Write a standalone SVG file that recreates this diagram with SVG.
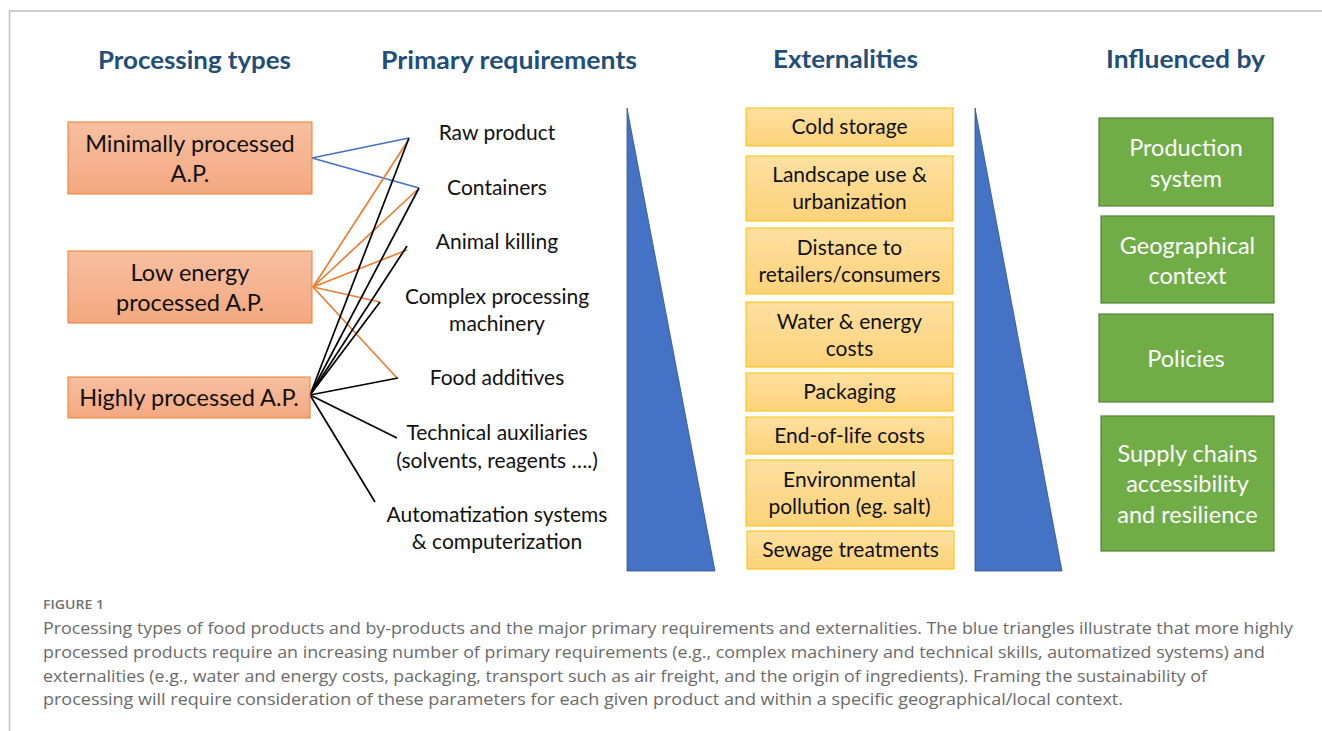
<svg xmlns="http://www.w3.org/2000/svg" width="1322" height="731" viewBox="0 0 1322 731">
<defs>
<linearGradient id="gOr" x1="0" y1="0" x2="0" y2="1"><stop offset="0" stop-color="#f7bfa0"/><stop offset="1" stop-color="#f4a880"/></linearGradient>
<linearGradient id="gYe" x1="0" y1="0" x2="0" y2="1"><stop offset="0" stop-color="#fde0a0"/><stop offset="1" stop-color="#fdd27a"/></linearGradient>
<style>
.hd{font-family:Lato,"Open Sans",sans-serif;font-weight:bold;font-size:25px;fill:#1f4e79;text-anchor:middle}
.pt{font-family:Lato,"Open Sans",sans-serif;font-size:23.5px;fill:#111;text-anchor:middle}
.rq{font-family:Lato,"Open Sans",sans-serif;font-size:21px;fill:#111;text-anchor:middle}
.ex{font-family:Lato,"Open Sans",sans-serif;font-size:21px;fill:#111;text-anchor:middle}
.gt{font-family:Lato,"Open Sans",sans-serif;font-size:23.5px;fill:#ffffff;text-anchor:middle}
.ob{fill:url(#gOr);stroke:#ed7d31;stroke-width:1}
.yb{fill:url(#gYe);stroke:#ffc000;stroke-width:1}
.gb{fill:#70ad47;stroke:#548235;stroke-width:1.2}
.tri{fill:#4472c4;stroke:#2f528f;stroke-width:0.8}
.bl{stroke:#4472c4;stroke-width:1.7;fill:none}
.or{stroke:#ed7d31;stroke-width:1.7;fill:none}
.bk{stroke:#000;stroke-width:1.7;fill:none}
.cap{font-family:"Open Sans",Lato,sans-serif;font-size:16.5px;fill:#6a6a6a}
.fig{font-family:"Open Sans",Lato,sans-serif;font-size:12.5px;font-weight:600;fill:#707070}
</style>
</defs>
<rect x="0" y="0" width="1322" height="731" fill="#ffffff"/>
<g id="frame" stroke="#bdbdbd" stroke-width="1.5" fill="none">
<line x1="9" y1="11" x2="1322" y2="11"/>
<line x1="9.5" y1="11" x2="9.5" y2="731"/>
</g>
<g id="headers">
<text class="hd" x="194.5" y="69" textLength="193" lengthAdjust="spacingAndGlyphs">Processing types</text>
<text class="hd" x="509" y="69" textLength="256" lengthAdjust="spacingAndGlyphs">Primary requirements</text>
<text class="hd" x="845.5" y="68" textLength="145" lengthAdjust="spacingAndGlyphs">Externalities</text>
<text class="hd" x="1185.5" y="68" textLength="159" lengthAdjust="spacingAndGlyphs">Influenced by</text>
</g>
<g id="connectors">
<line class="bl" x1="312" y1="158" x2="409" y2="138"/>
<line class="bl" x1="312" y1="158" x2="419" y2="188"/>
<line class="or" x1="313" y1="287" x2="409" y2="139"/>
<line class="or" x1="313" y1="287" x2="417" y2="190"/>
<line class="or" x1="313" y1="287" x2="407" y2="250"/>
<line class="or" x1="313" y1="287" x2="380" y2="302"/>
<line class="or" x1="313" y1="287" x2="397" y2="378"/>
<line class="bk" x1="310" y1="395" x2="409" y2="138"/>
<line class="bk" x1="310" y1="395" x2="419" y2="188"/>
<line class="bk" x1="310" y1="395" x2="407" y2="246"/>
<line class="bk" x1="310" y1="395" x2="380" y2="302" stroke-width="1"/>
<line class="bk" x1="310" y1="395" x2="398" y2="378"/>
<line class="bk" x1="310" y1="395" x2="397" y2="438"/>
<line class="bk" x1="310" y1="395" x2="375" y2="502"/>
</g>
<g id="node-minimally">
<rect class="ob" x="68" y="122" width="244" height="72"/>
<text class="pt" x="190" y="152">Minimally processed</text>
<text class="pt" x="190" y="182">A.P.</text>
</g>
<g id="node-lowenergy">
<rect class="ob" x="68" y="251" width="244" height="72"/>
<text class="pt" x="190" y="281">Low energy</text>
<text class="pt" x="190" y="311">processed A.P.</text>
</g>
<g id="node-highly">
<rect class="ob" x="68" y="377" width="242" height="41"/>
<text class="pt" x="189" y="406">Highly processed A.P.</text>
</g>
<g id="req-raw"><text class="rq" x="497" y="140">Raw product</text></g>
<g id="req-containers"><text class="rq" x="497" y="195">Containers</text></g>
<g id="req-animal"><text class="rq" x="497" y="249">Animal killing</text></g>
<g id="req-complex"><text class="rq" x="497" y="304">Complex processing</text><text class="rq" x="497" y="331">machinery</text></g>
<g id="req-additives"><text class="rq" x="497" y="385">Food additives</text></g>
<g id="req-technical"><text class="rq" x="497" y="440">Technical auxiliaries</text><text class="rq" x="497" y="468">(solvents, reagents ….)</text></g>
<g id="req-automat"><text class="rq" x="497" y="522">Automatization systems</text><text class="rq" x="497" y="549">&amp; computerization</text></g>
<g id="triangle-1"><polygon class="tri" points="627,108 715,571 627,571"/></g>
<g id="triangle-2"><polygon class="tri" points="975,108 1062,571 975,571"/></g>
<g id="ext-cold"><rect class="yb" x="746" y="108" width="207" height="38"/><text class="ex" x="849.5" y="134">Cold storage</text></g>
<g id="ext-landscape"><rect class="yb" x="746" y="156" width="207" height="65"/><text class="ex" x="849.5" y="182">Landscape use &amp;</text><text class="ex" x="849.5" y="209">urbanization</text></g>
<g id="ext-distance"><rect class="yb" x="746" y="228" width="207" height="66"/><text class="ex" x="849.5" y="255">Distance to</text><text class="ex" x="849.5" y="282">retailers/consumers</text></g>
<g id="ext-water"><rect class="yb" x="746" y="302" width="207" height="65"/><text class="ex" x="849.5" y="329">Water &amp; energy</text><text class="ex" x="849.5" y="356">costs</text></g>
<g id="ext-packaging"><rect class="yb" x="746" y="373" width="207" height="38"/><text class="ex" x="849.5" y="399">Packaging</text></g>
<g id="ext-endoflife"><rect class="yb" x="746" y="417" width="207" height="37"/><text class="ex" x="849.5" y="443">End-of-life costs</text></g>
<g id="ext-environmental"><rect class="yb" x="746" y="460" width="207" height="66"/><text class="ex" x="849.5" y="487">Environmental</text><text class="ex" x="849.5" y="514">pollution (eg. salt)</text></g>
<g id="ext-sewage"><rect class="yb" x="747" y="531" width="207" height="38"/><text class="ex" x="850.5" y="557">Sewage treatments</text></g>
<g id="inf-production"><rect class="gb" x="1099" y="118" width="174" height="88"/><text class="gt" x="1186" y="156">Production</text><text class="gt" x="1186" y="187">system</text></g>
<g id="inf-geographical"><rect class="gb" x="1101" y="216" width="173" height="87"/><text class="gt" x="1187.5" y="254">Geographical</text><text class="gt" x="1187.5" y="284">context</text></g>
<g id="inf-policies"><rect class="gb" x="1099" y="314" width="174" height="88"/><text class="gt" x="1186" y="367">Policies</text></g>
<g id="inf-supply"><rect class="gb" x="1101" y="416" width="173" height="135"/><text class="gt" x="1187.5" y="462">Supply chains</text><text class="gt" x="1187.5" y="492">accessibility</text><text class="gt" x="1187.5" y="523">and resilience</text></g>
<g id="caption">
<text class="fig" x="43" y="609" textLength="61" lengthAdjust="spacingAndGlyphs">FIGURE 1</text>
<text class="cap" x="43" y="634" textLength="1250" lengthAdjust="spacingAndGlyphs">Processing types of food products and by-products and the major primary requirements and externalities. The blue triangles illustrate that more highly</text>
<text class="cap" x="43" y="658" textLength="1222" lengthAdjust="spacingAndGlyphs">processed products require an increasing number of primary requirements (e.g., complex machinery and technical skills, automatized systems) and</text>
<text class="cap" x="43" y="682" textLength="1164" lengthAdjust="spacingAndGlyphs">externalities (e.g., water and energy costs, packaging, transport such as air freight, and the origin of ingredients). Framing the sustainability of</text>
<text class="cap" x="43" y="705" textLength="1080" lengthAdjust="spacingAndGlyphs">processing will require consideration of these parameters for each given product and within a specific geographical/local context.</text>
</g>
</svg>
